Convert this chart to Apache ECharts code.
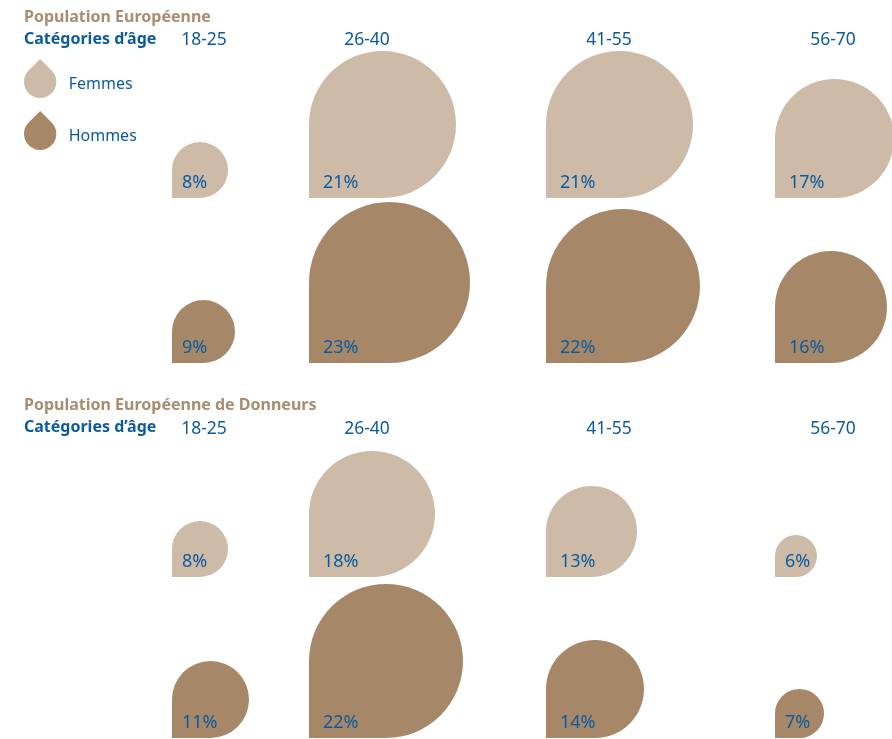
<!DOCTYPE html>
<html>
<head>
<meta charset="utf-8">
<style>html,body{margin:0;padding:0;background:#fff}#chart{width:892px;height:739px}</style>
<script src="https://cdn.jsdelivr.net/npm/echarts@6/dist/echarts.min.js"></script>
</head>
<body>
<div id="chart"></div>
<script>
// Age bands and the share of each sex per band, in percent
const ageGroups = ['18-25', '26-40', '41-55', '56-70'];
const populationFemmes = [8, 21, 21, 17];
const populationHommes = [9, 23, 22, 16];
const donneursFemmes = [8, 18, 13, 6];
const donneursHommes = [11, 22, 14, 7];

// Page layout, in pixels
const FONT = '"Noto Sans", sans-serif';
const BLUE = '#0b5a9e';
const TAN = '#a98d70';
const FEMMES = '#cdbba7';
const HOMMES = '#a68868';
const PAGE_WIDTH = 892;
const PX_PER_PERCENT = 7;
const MAX_SPAN = 161;
const columnLeft = [172, 309, 546, 775];
const columnLabelX = [204, 367, 609, 833];

const rows = [
  { name: 'Femmes', color: FEMMES, values: populationFemmes, baseline: 198 },
  { name: 'Hommes', color: HOMMES, values: populationHommes, baseline: 363 },
  { name: 'Femmes', color: FEMMES, values: donneursFemmes, baseline: 577 },
  { name: 'Hommes', color: HOMMES, values: donneursHommes, baseline: 738 }
];

// Drop with a square corner at the lower left, a circle everywhere else
function dropPath(x0, y0, x1, y1) {
  const r = (x1 - x0) / 2;
  return 'M' + x0 + ' ' + y0 +
    ' L' + x0 + ' ' + (y0 - r) +
    ' A' + r + ' ' + r + ' 0 1 1 ' + (x0 + r) + ' ' + y0 + ' Z';
}

function renderDrop(color) {
  return function (params, api) {
    const v = api.value(0);
    const p0 = api.coord([0, 0]);
    const p1 = api.coord([v, v]);
    return {
      type: 'group',
      children: [
        {
          type: 'path',
          shape: { pathData: dropPath(p0[0], p0[1], p1[0], p1[1]) },
          style: { fill: color }
        },
        {
          type: 'text',
          style: {
            x: p0[0] + (v < 12 ? 10 : 14),
            y: p0[1] - 15.5,
            text: v + '%',
            fill: BLUE,
            font: '18px ' + FONT,
            textAlign: 'left',
            textVerticalAlign: 'middle'
          }
        }
      ]
    };
  };
}

// One small grid per drop; the axes share a fixed pixels-per-percent scale
const grid = [], xAxis = [], yAxis = [], series = [];
rows.forEach(function (row) {
  row.values.forEach(function (value, c) {
    const i = grid.length;
    const width = Math.min(MAX_SPAN, PAGE_WIDTH - columnLeft[c]);
    grid.push({ left: columnLeft[c], top: row.baseline - MAX_SPAN, width: width, height: MAX_SPAN });
    xAxis.push({ gridIndex: i, type: 'value', min: 0, max: width / PX_PER_PERCENT, show: false });
    yAxis.push({ gridIndex: i, type: 'value', min: 0, max: MAX_SPAN / PX_PER_PERCENT, show: false });
    series.push({
      type: 'custom',
      name: row.name,
      xAxisIndex: i,
      yAxisIndex: i,
      clip: false,
      itemStyle: { color: row.color },
      renderItem: renderDrop(row.color),
      data: [[value]]
    });
  });
});

function heading(text, y, color) {
  return { type: 'text', left: 24, top: y, style: { text: text, fill: color, font: 'bold 16px ' + FONT } };
}
function ageLabels(y) {
  return ageGroups.map(function (age, c) {
    return {
      type: 'text',
      x: columnLabelX[c],
      y: y,
      style: { text: age, fill: BLUE, font: '17.5px ' + FONT, textAlign: 'center', textVerticalAlign: 'middle' }
    };
  });
}

const legendIcon = 'path://M16.5 0 L28.2 11.7 A16.5 16.5 0 1 1 4.8 11.7 Z';

const chart = echarts.init(document.getElementById('chart'), null, { renderer: 'canvas' });
chart.setOption({
  animation: false,
  backgroundColor: '#fff',
  legend: {
    orient: 'vertical',
    left: 24,
    top: 59,
    itemWidth: 33,
    itemHeight: 39,
    itemGap: 13,
    selectedMode: false,
    formatter: '{t|{name}}',
    textStyle: {
      rich: {
        t: { color: BLUE, fontSize: 16, fontFamily: FONT, padding: [11, 0, 0, 7] }
      }
    },
    padding: 0,
    data: [{ name: 'Femmes', icon: legendIcon }, { name: 'Hommes', icon: legendIcon }]
  },
  grid: grid,
  xAxis: xAxis,
  yAxis: yAxis,
  series: series,
  graphic: [
    heading('Population Européenne', 9, TAN),
    heading('Catégories d’âge', 31, BLUE),
    heading('Population Européenne de Donneurs', 397, TAN),
    heading('Catégories d’âge', 419, BLUE)
  ].concat(ageLabels(40), ageLabels(429))
});
</script>
</body>
</html>
